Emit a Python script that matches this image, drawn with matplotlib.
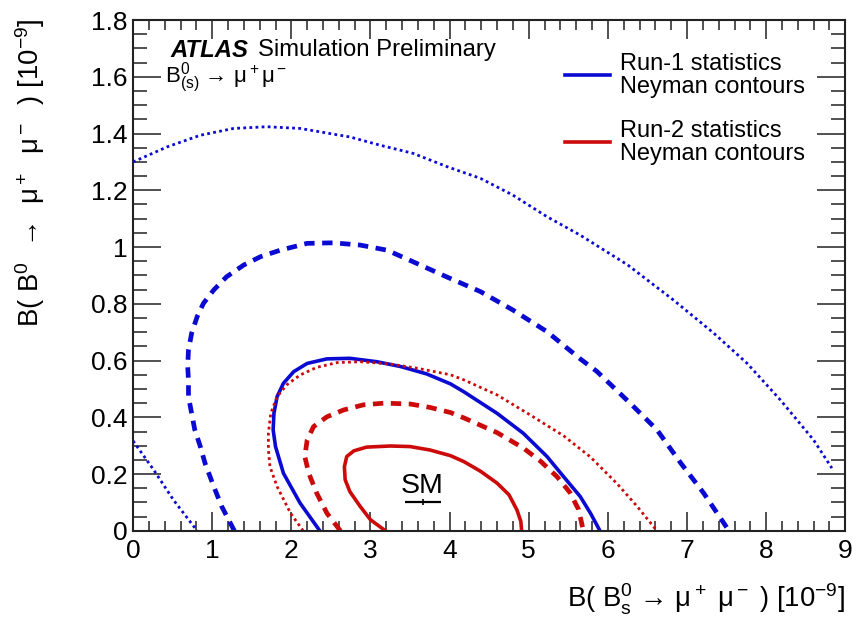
import numpy as np
import matplotlib
matplotlib.use("Agg")
import matplotlib.pyplot as plt
from matplotlib.ticker import MultipleLocator, FuncFormatter

plt.rcParams['font.family'] = ['Liberation Sans', 'DejaVu Sans']
plt.rcParams['mathtext.fontset'] = 'custom'
plt.rcParams['mathtext.rm'] = 'Liberation Sans'
plt.rcParams['mathtext.it'] = 'Liberation Sans:italic'

#Run-1 contours (blue)
r1_outer_x = [0, 0.43, 0.85, 1.27, 1.69, 2.11, 2.74, 3.12, 3.54, 3.97, 4.39, 4.80, 5.23, 5.65, 6.25, 6.83, 7.34, 7.76, 8.18, 8.60, 8.83]
r1_outer_y = [1.30, 1.353, 1.394, 1.418, 1.424, 1.418, 1.388, 1.359, 1.33, 1.283, 1.242, 1.183, 1.107, 1.042, 0.937, 0.813, 0.696, 0.59, 0.461, 0.32, 0.221]
r1_inner_x = [0, 0.26, 0.51, 0.81]
r1_inner_y = [0.317, 0.215, 0.109, 0]
r1_2s_x = [1.28, 1.12, 1.02, 0.91, 0.85, 0.78, 0.74, 0.70, 0.70, 0.69, 0.70, 0.74, 0.81, 0.89, 1.02, 1.18, 1.40, 1.61, 1.86,
           2.20, 2.53, 2.87, 3.21, 3.54, 3.97, 4.39, 4.80, 5.23, 5.65, 5.86, 6.28, 6.62, 6.92, 7.21, 7.53]
r1_2s_y = [0, 0.086, 0.156, 0.238, 0.297, 0.356, 0.414, 0.473, 0.532, 0.579, 0.637, 0.696, 0.755, 0.802, 0.849, 0.895, 0.937, 0.966, 0.989,
           1.013, 1.015, 1.007, 0.989, 0.948, 0.894, 0.843, 0.778, 0.702, 0.606, 0.562, 0.45, 0.356, 0.239, 0.133, 0]
r1_1s_x = [2.36, 2.11, 1.90, 1.80, 1.77, 1.78, 1.82, 1.90, 2.03, 2.20, 2.45, 2.74, 3.08, 3.38, 3.71, 4.01, 4.18, 4.60, 4.93, 5.23, 5.44, 5.65, 5.78, 5.90]
r1_1s_y = [0, 0.098, 0.203, 0.297, 0.356, 0.414, 0.473, 0.52, 0.561, 0.59, 0.606, 0.608, 0.596, 0.579, 0.553, 0.518, 0.49, 0.414, 0.344, 0.262, 0.191, 0.121, 0.062, 0]

#Run-2 contours (red)
r2_3s_x = [2.15, 1.99, 1.82, 1.73, 1.71, 1.71, 1.74, 1.82, 1.94, 2.11, 2.32, 2.58, 2.87, 3.25, 3.59, 4.01, 4.18, 4.60, 5.02, 5.44, 5.78, 6.12, 6.37, 6.62]
r2_3s_y = [0, 0.062, 0.156, 0.226, 0.285, 0.344, 0.414, 0.473, 0.514, 0.549, 0.576, 0.593, 0.596, 0.588, 0.573, 0.55, 0.532, 0.479, 0.408, 0.335, 0.26, 0.165, 0.086, 0]
r2_2s_x = [2.62, 2.45, 2.32, 2.22, 2.17, 2.20, 2.28, 2.45, 2.66, 2.91, 3.17, 3.50, 3.75, 4.01, 4.18, 4.60, 4.93, 5.15, 5.36, 5.52, 5.63, 5.69]
r2_2s_y = [0, 0.062, 0.133, 0.203, 0.262, 0.32, 0.367, 0.402, 0.426, 0.444, 0.45, 0.447, 0.435, 0.417, 0.398, 0.346, 0.292, 0.245, 0.19, 0.135, 0.075, 0]
r2_1s_x = [3.19, 3.00, 2.87, 2.74, 2.68, 2.67, 2.70, 2.79, 2.95, 3.25, 3.50, 3.75, 4.01, 4.18, 4.39, 4.60, 4.75, 4.85, 4.90, 4.91]
r2_1s_y = [0, 0.039, 0.086, 0.138, 0.18, 0.226, 0.262, 0.282, 0.295, 0.299, 0.297, 0.285, 0.265, 0.244, 0.21, 0.168, 0.127, 0.074, 0.033, 0]

#SM prediction
sm_x = 3.66
sm_xerr = 0.23
sm_y = 0.101

BLUE = '#0a0ad2'
RED = '#cc0a0a'

fig = plt.figure(figsize=(8.53, 6.26), dpi=100)
ax = fig.add_axes([0.156, 0.152, 0.835, 0.816])

dot = (0, (1.0, 1.2))
dash = (0, (2.2, 1.6))
kw = dict(solid_joinstyle='round', dash_joinstyle='round')
ax.plot(r1_outer_x, r1_outer_y, color=BLUE, lw=2.0, ls=dot, **kw)
ax.plot(r1_inner_x, r1_inner_y, color=BLUE, lw=2.0, ls=dot, **kw)
ax.plot(r1_2s_x, r1_2s_y, color=BLUE, lw=3.4, ls=dash, **kw)
ax.plot(r1_1s_x, r1_1s_y, color=BLUE, lw=2.6, ls='-', **kw)
ax.plot(r2_3s_x, r2_3s_y, color=RED, lw=2.0, ls=dot, **kw)
ax.plot(r2_2s_x, r2_2s_y, color=RED, lw=3.4, ls=dash, **kw)
ax.plot(r2_1s_x, r2_1s_y, color=RED, lw=2.6, ls='-', **kw)

ax.errorbar([sm_x], [sm_y], xerr=[sm_xerr], fmt='none', ecolor='black', elinewidth=1.6, capsize=0)
ax.plot([sm_x], [sm_y], marker='|', color='black', ms=5, mew=1.2)
ax.text(3.65, 0.133, 'SM', fontsize=20.5, ha='center', va='baseline')

ax.set_xlim(0, 9)
ax.set_ylim(0, 1.8)
ax.xaxis.set_major_locator(MultipleLocator(1))
ax.xaxis.set_minor_locator(MultipleLocator(0.2))
ax.yaxis.set_major_locator(MultipleLocator(0.2))
ax.yaxis.set_minor_locator(MultipleLocator(0.05))
ax.yaxis.set_major_formatter(FuncFormatter(lambda v, p: ('%g' % round(v, 2))))
ax.tick_params(which='both', direction='in', top=True, right=True, labelsize=19, width=1.2, color='#333333')
ax.tick_params(axis='x', which='major', length=14, pad=6)
ax.tick_params(axis='x', which='minor', length=7)
ax.tick_params(axis='y', which='major', length=20, pad=4)
ax.tick_params(axis='y', which='minor', length=10)
for s in ax.spines.values():
    s.set_linewidth(1.5)
    s.set_color('#222222')

fig.text(0.991, 0.015, r'B( B$\mathregular{^0_s}$ → μ$\mathregular{^+}$ μ$\mathregular{^-}$ ) [10$\mathregular{^{-9}}$]',
         fontsize=19.8, ha='right', va='bottom')
fig.text(0.015, 0.97, r'B( B$\mathregular{^0}$  →  μ$\mathregular{^+}$  μ$\mathregular{^-}$  ) [10$\mathregular{^{-9}}$]',
         fontsize=19.8, ha='left', va='top', rotation=90)

ax.text(0.052, 0.941, 'ATLAS', transform=ax.transAxes, fontsize=17.2, fontweight='bold', style='italic', va='center')
ax.text(0.176, 0.941, 'Simulation Preliminary', transform=ax.transAxes, fontsize=17.2, va='center')
ax.text(0.045, 0.886, r'B$\mathregular{^0_{(s)}}$ → μ$\mathregular{^+}$μ$\mathregular{^-}$', transform=ax.transAxes,
        fontsize=16, va='center')

#legend drawn by hand
for yy, col, lab in [(0.892, BLUE, 'Run-1 statistics\nNeyman contours'), (0.761, RED, 'Run-2 statistics\nNeyman contours')]:
    ax.plot([0.607, 0.67], [yy, yy], transform=ax.transAxes, color=col, lw=2.6)
    ax.text(0.684, yy, lab, transform=ax.transAxes, fontsize=17, va='center', linespacing=1.05)

fig.savefig('out.png', dpi=100)
